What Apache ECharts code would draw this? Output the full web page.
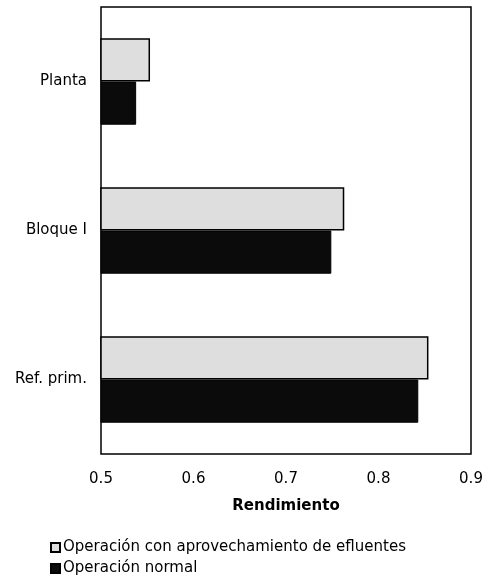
<!DOCTYPE html>
<html>
<head>
<meta charset="utf-8">
<script src="https://cdn.jsdelivr.net/npm/echarts@6/dist/echarts.min.js"></script>
<style>
  html, body { margin: 0; padding: 0; background: #fff; }
  #chart { width: 488px; height: 579px; }
</style>
</head>
<body>
<div id="chart"></div>
<script>
// Efficiency per unit, normal operation vs. operation reusing effluents
const categories = ['Planta', 'Bloque I', 'Ref. prim.'];
const seriesNames = ['Operación con aprovechamiento de efluentes', 'Operación normal'];
const conEfluentes = [0.553, 0.763, 0.854];
const normal = [0.538, 0.749, 0.843];
const xTicks = [0.5, 0.6, 0.7, 0.8, 0.9];

const FONT = 'DejaVu Sans';
const chart = echarts.init(document.getElementById('chart'));

chart.setOption({
  animation: false,
  textStyle: { fontFamily: FONT, color: '#000' },
  grid: {
    left: 101, right: 17, top: 7, bottom: 125,
    show: true, borderColor: '#000', borderWidth: 1.5, backgroundColor: '#fff'
  },
  xAxis: {
    type: 'value',
    min: xTicks[0], max: xTicks[xTicks.length - 1], interval: 0.1,
    name: 'Rendimiento', nameLocation: 'middle', nameGap: 45,
    nameTextStyle: { fontFamily: FONT, fontSize: 15, fontWeight: 'bold', color: '#000' },
    axisLine: { show: false }, axisTick: { show: false }, splitLine: { show: false },
    axisLabel: { fontFamily: FONT, fontSize: 15, color: '#000', margin: 18,
      formatter: v => v.toFixed(1) }
  },
  yAxis: {
    type: 'category', data: categories, inverse: true,
    axisLine: { show: false }, axisTick: { show: false },
    axisLabel: { fontFamily: FONT, fontSize: 15, color: '#000', margin: 14 }
  },
  legend: {
    orient: 'vertical', left: 50, top: 540, height: 39, padding: 0, itemGap: 6,
    itemWidth: 9, itemHeight: 9, icon: 'rect',
    textStyle: { fontFamily: FONT, fontSize: 15, color: '#000', padding: [0, 0, 0, -2] },
    data: seriesNames
  },
  series: [
    {
      name: seriesNames[0], type: 'bar', data: conEfluentes,
      barGap: '0%', barCategoryGap: '42%',
      itemStyle: { color: '#dedede', borderColor: '#000', borderWidth: 1.5 }
    },
    {
      name: seriesNames[1], type: 'bar', data: normal,
      barGap: '0%', barCategoryGap: '42%',
      itemStyle: { color: '#0b0b0b', borderColor: '#000', borderWidth: 1 }
    }
  ]
});
</script>
</body>
</html>
